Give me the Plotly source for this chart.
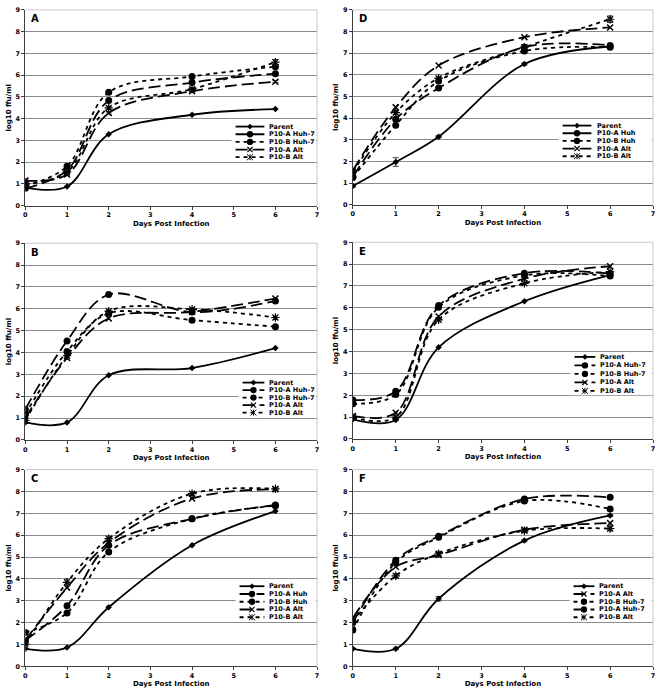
import plotly.graph_objects as go

W, H = 661, 695
FONT = "DejaVu Sans"

days = [0, 1, 2, 4, 6]

# Panel A
A_parent = [0.83, 0.88, 3.28, 4.18, 4.44]
A_p10a_huh7 = [0.80, 1.63, 4.83, 5.66, 6.07]
A_p10b_huh7 = [0.90, 1.81, 5.21, 5.94, 6.39]
A_p10a_alt = [1.15, 1.43, 4.26, 5.26, 5.70]
A_p10b_alt = [1.00, 1.55, 4.50, 5.36, 6.60]
A_p10a_alt_err = [0.10, 0.05, 0.05, 0.05, 0.05]
A_p10b_alt_err = [0.05, 0.10, 0.08, 0.08, 0.12]

# Panel B
B_parent = [0.80, 0.80, 2.96, 3.29, 4.20]
B_p10a_huh7 = [1.40, 4.53, 6.65, 5.85, 6.36]
B_p10b_huh7 = [1.18, 4.05, 5.79, 5.48, 5.18]
B_p10a_alt = [1.00, 3.75, 5.56, 5.86, 6.47]
B_p10b_alt = [0.90, 3.85, 5.89, 5.98, 5.60]

# Panel C
C_parent = [0.80, 0.86, 2.70, 5.54, 7.10]
C_p10a_huh = [1.19, 2.77, 5.54, 6.75, 7.38]
C_p10b_huh = [1.55, 2.44, 5.23, 6.75, 7.35]
C_p10a_alt = [1.20, 3.60, 5.65, 7.68, 8.10]
C_p10b_alt = [1.00, 3.84, 5.84, 7.90, 8.12]
C_p10b_alt_err = [0.05, 0.15, 0.08, 0.08, 0.05]

# Panel D
D_parent = [0.86, 1.97, 3.14, 6.50, 7.31]
D_p10a_huh = [1.30, 3.95, 5.39, 7.28, 7.36]
D_p10b_huh = [1.25, 3.67, 5.71, 7.10, 7.28]
D_p10a_alt = [1.59, 4.50, 6.43, 7.74, 8.19]
D_p10b_alt = [1.50, 4.25, 5.85, 7.28, 8.57]
D_parent_err = [0.05, 0.20, 0.05, 0.05, 0.05]
D_p10b_alt_err = [0.10, 0.10, 0.05, 0.05, 0.15]

# Panel E
E_parent = [0.90, 0.87, 4.19, 6.30, 7.50]
E_p10a_huh7 = [1.78, 2.18, 6.10, 7.58, 7.56]
E_p10b_huh7 = [1.61, 2.03, 6.02, 7.48, 7.45]
E_p10a_alt = [1.05, 1.20, 5.60, 7.33, 7.90]
E_p10b_alt = [0.98, 1.00, 5.45, 7.12, 7.65]

# Panel F
F_parent = [0.80, 0.80, 3.09, 5.75, 6.90]
F_p10a_alt = [2.21, 4.55, 5.09, 6.25, 6.55]
F_p10b_huh7 = [1.66, 4.75, 5.90, 7.56, 7.20]
F_p10a_huh7 = [2.00, 4.85, 5.95, 7.65, 7.73]
F_p10b_alt = [2.05, 4.14, 5.15, 6.20, 6.30]
F_parent_err = [0.03, 0.03, 0.10, 0.05, 0.05]
F_p10b_alt_err = [0.10, 0.10, 0.10, 0.05, 0.10]

x_ticks = [0, 1, 2, 3, 4, 5, 6, 7]
y_ticks = [0, 1, 2, 3, 4, 5, 6, 7, 8, 9]

LONG = "12px,5px"
SHORT = "4px,4px"
STYLES = {
    "parent": dict(dash="solid", symbol="diamond", size=5, mline=0),
    "a_huh": dict(dash=LONG, symbol="circle", size=7, mline=0),
    "b_huh": dict(dash=SHORT, symbol="circle", size=7, mline=0),
    "a_alt": dict(dash=LONG, symbol="x-thin-open", size=6, mline=1.5),
    "b_alt": dict(dash=SHORT, symbol="asterisk-open", size=7, mline=1.2),
}

# (letter, x-domain px, y-domain px, series, legend px: sample x0, x1, text x, first row y, row step)
panels = [
    ("A", (23.5, 317), (6, 204),
     [("Parent", A_parent, "parent", None), ("P10-A Huh-7", A_p10a_huh7, "a_huh", None),
      ("P10-B Huh-7", A_p10b_huh7, "b_huh", None), ("P10-A Alt", A_p10a_alt, "a_alt", A_p10a_alt_err),
      ("P10-B Alt", A_p10b_alt, "b_alt", A_p10b_alt_err)],
     (235, 264, 267, 124, 7.75)),
    ("D", (353, 655), (6, 203),
     [("Parent", D_parent, "parent", D_parent_err), ("P10-A Huh", D_p10a_huh, "a_huh", None),
      ("P10-B Huh", D_p10b_huh, "b_huh", None), ("P10-A Alt", D_p10a_alt, "a_alt", None),
      ("P10-B Alt", D_p10b_alt, "b_alt", D_p10b_alt_err)],
     (564, 593, 597, 123, 7.75)),
    ("B", (23.5, 317), (242, 441),
     [("Parent", B_parent, "parent", None), ("P10-A Huh-7", B_p10a_huh7, "a_huh", None),
      ("P10-B Huh-7", B_p10b_huh7, "b_huh", None), ("P10-A Alt", B_p10a_alt, "a_alt", None),
      ("P10-B Alt", B_p10b_alt, "b_alt", None)],
     (242, 264, 267, 383, 7.6)),
    ("E", (353, 655), (241, 440),
     [("Parent", E_parent, "parent", None), ("P10-A Huh-7", E_p10a_huh7, "a_huh", None),
      ("P10-B Huh-7", E_p10b_huh7, "b_huh", None), ("P10-A Alt", E_p10a_alt, "a_alt", None),
      ("P10-B Alt", E_p10b_alt, "b_alt", None)],
     (576, 597, 600, 357, 8.6)),
    ("C", (23.5, 317), (471, 670),
     [("Parent", C_parent, "parent", None), ("P10-A Huh", C_p10a_huh, "a_huh", None),
      ("P10-B Huh", C_p10b_huh, "b_huh", None), ("P10-A Alt", C_p10a_alt, "a_alt", None),
      ("P10-B Alt", C_p10b_alt, "b_alt", C_p10b_alt_err)],
     (239, 264, 267, 589, 7.85)),
    ("F", (353, 655), (471, 670),
     [("Parent", F_parent, "parent", F_parent_err), ("P10-A Alt", F_p10a_alt, "a_alt", None),
      ("P10-B Huh-7", F_p10b_huh7, "b_huh", None), ("P10-A Huh-7", F_p10a_huh7, "a_huh", None),
      ("P10-B Alt", F_p10b_alt, "b_alt", F_p10b_alt_err)],
     (575, 596, 599, 589, 7.85)),
]


def px(x):
    return x / W


def py(y):
    return 1 - y / H


fig = go.Figure()
shapes = []
annotations = []
layout = {}

tickfont = dict(family=FONT, size=6.5, color="#000000", weight="bold")
titlefont = dict(family=FONT, size=7, color="#000000", weight="bold")

for i, (letter, xd, yd, series, leg) in enumerate(panels):
    n = i + 1
    xa = "x" if n == 1 else f"x{n}"
    ya = "y" if n == 1 else f"y{n}"
    xkey = "xaxis" if n == 1 else f"xaxis{n}"
    ykey = "yaxis" if n == 1 else f"yaxis{n}"

    for name, vals, sk, err in series:
        st = STYLES[sk]
        tr = dict(
            x=days, y=vals, name=name, mode="lines+markers",
            line=dict(color="black", width=1.8, dash=st["dash"], shape="spline", smoothing=1.0),
            marker=dict(symbol=st["symbol"], size=st["size"], color="black",
                        line=dict(color="black", width=st["mline"])),
            xaxis=xa, yaxis=ya, showlegend=False,
        )
        if err is not None:
            tr["error_y"] = dict(type="data", array=err, visible=True,
                                 color="#404040", thickness=1, width=3)
        fig.add_trace(go.Scatter(**tr))

    layout[xkey] = dict(
        domain=[px(xd[0]), px(xd[1])], range=[0, 7], tickvals=x_ticks,
        showgrid=False, zeroline=False, showline=True, linecolor="#404040", linewidth=1,
        ticks="outside", ticklen=3, tickcolor="#404040", tickfont=tickfont,
        title=dict(text="Days Post Infection", font=titlefont, standoff=2),
        anchor=ya, fixedrange=True,
    )
    layout[ykey] = dict(
        domain=[py(yd[1]), py(yd[0])], range=[0, 9], tickvals=y_ticks,
        showgrid=True, gridcolor="#8c8c8c", gridwidth=1, zeroline=False,
        showline=True, linecolor="#404040", linewidth=1,
        ticks="outside", ticklen=3, tickcolor="#404040", tickfont=tickfont,
        title=dict(text="log10 ffu/ml", font=titlefont, standoff=3),
        anchor=xa, fixedrange=True,
    )

    # right border and top border of plot area
    shapes.append(dict(type="line", xref="paper", yref="paper",
                       x0=px(xd[1]), x1=px(xd[1]), y0=py(yd[1]), y1=py(yd[0]),
                       line=dict(color="#c8c8c8", width=1), layer="above"))
    shapes.append(dict(type="line", xref="paper", yref="paper",
                       x0=px(xd[0]), x1=px(xd[1]), y0=py(yd[0]), y1=py(yd[0]),
                       line=dict(color="#c8c8c8", width=1), layer="above"))

    # panel letter
    annotations.append(dict(text=letter, xref="paper", yref="paper",
                            x=px(xd[0] + 4), y=py(yd[0] + 9), xanchor="left", yanchor="middle",
                            showarrow=False, font=dict(family=FONT, size=10, color="black", weight="bold")))

    # legend
    sx0, sx1, tx, ry0, step = leg
    last = ry0 + 4 * step
    shapes.append(dict(type="rect", xref="paper", yref="paper",
                       x0=px(sx0 - 4), x1=px(xd[1] - 1), y0=py(ry0 - 4.5), y1=py(last + 4.5),
                       fillcolor="white", line=dict(width=0), layer="above"))
    for k, (name, vals, sk, err) in enumerate(series):
        st = STYLES[sk]
        yy = ry0 + k * step
        shapes.append(dict(type="line", xref="paper", yref="paper",
                           x0=px(sx0), x1=px(sx1), y0=py(yy), y1=py(yy),
                           line=dict(color="black", width=1.8, dash=st["dash"]), layer="above"))
        cx = (sx0 + sx1) / 2
        if st["symbol"] == "circle":
            r = 3.2
            shapes.append(dict(type="circle", xref="paper", yref="paper",
                               x0=px(cx - r), x1=px(cx + r), y0=py(yy + r), y1=py(yy - r),
                               fillcolor="black", line=dict(color="black", width=0), layer="above"))
        elif st["symbol"] == "diamond":
            r = 2.6
            path = (f"M {px(cx)},{py(yy - r)} L {px(cx + r)},{py(yy)} "
                    f"L {px(cx)},{py(yy + r)} L {px(cx - r)},{py(yy)} Z")
            shapes.append(dict(type="path", xref="paper", yref="paper", path=path,
                               fillcolor="black", line=dict(color="black", width=0.5), layer="above"))
        elif st["symbol"] == "x-thin-open":
            r = 2.6
            path = (f"M {px(cx - r)},{py(yy - r)} L {px(cx + r)},{py(yy + r)} "
                    f"M {px(cx - r)},{py(yy + r)} L {px(cx + r)},{py(yy - r)}")
            shapes.append(dict(type="path", xref="paper", yref="paper", path=path,
                               line=dict(color="black", width=1.2), layer="above"))
        else:
            r = 3.0
            path = (f"M {px(cx - r)},{py(yy - r)} L {px(cx + r)},{py(yy + r)} "
                    f"M {px(cx - r)},{py(yy + r)} L {px(cx + r)},{py(yy - r)} "
                    f"M {px(cx)},{py(yy - r)} L {px(cx)},{py(yy + r)}")
            shapes.append(dict(type="path", xref="paper", yref="paper", path=path,
                               line=dict(color="black", width=1.0), layer="above"))
        annotations.append(dict(text=name, xref="paper", yref="paper",
                                x=px(tx), y=py(yy), xanchor="left", yanchor="middle",
                                showarrow=False,
                                font=dict(family=FONT, size=6.5, color="black", weight="bold")))

fig.update_layout(
    width=W, height=H,
    margin=dict(l=0, r=0, t=0, b=0),
    paper_bgcolor="white", plot_bgcolor="white",
    showlegend=False,
    shapes=shapes, annotations=annotations,
    font=dict(family=FONT),
    **layout,
)

fig.write_html("out.html", config={"displayModeBar": False},
               post_script="document.body.style.margin='0';document.body.style.overflow='hidden';")
